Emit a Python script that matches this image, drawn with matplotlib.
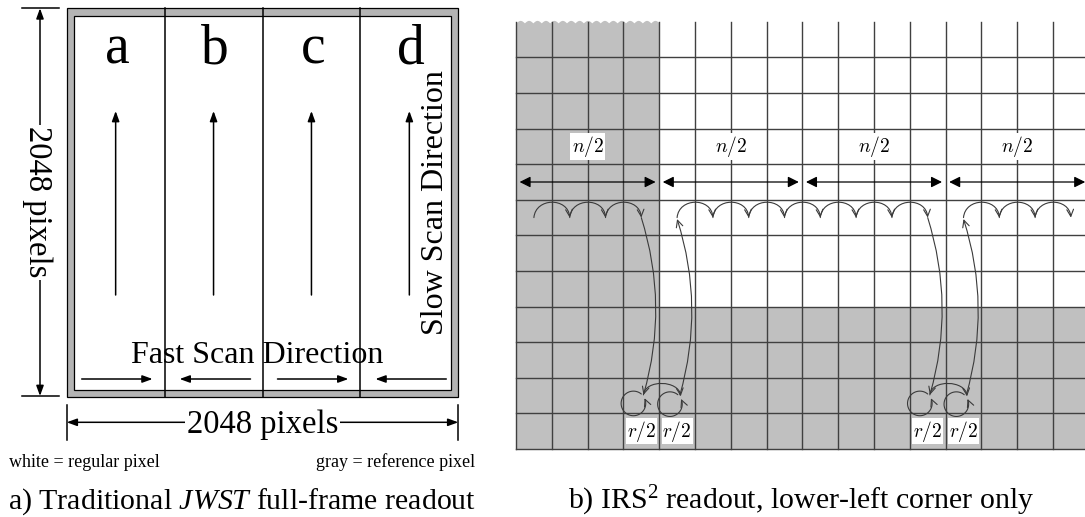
import numpy as np
import matplotlib.pyplot as plt
from matplotlib.patches import Rectangle, FancyArrowPatch
from matplotlib.path import Path

plt.rcParams['font.family'] = ['Liberation Serif', 'DejaVu Serif']
plt.rcParams['mathtext.fontset'] = 'custom'
plt.rcParams['mathtext.rm'] = 'Liberation Serif'
plt.rcParams['mathtext.it'] = 'Liberation Serif:italic'

W, H = 1085, 517

# ── panel a: traditional full-frame readout ──
CHANNELS = ['a', 'b', 'c', 'd']
FAST_DIR = [1, -1, 1, -1]          # +1 = left->right, -1 = right->left
FRAME_PIX = 2048
FRAME = (66.7, 8.3, 458.3, 397.3)  # left, top, right, bottom  (figure px)
BORDER = 7.5                       # drawn width of the reference-pixel border

# ── panel b: IRS2 readout of the lower-left corner ──
GRID_COLS = 16
GRID_ROWS = 12
REF_COLS = 4          # reference columns on the left
REF_ROWS = 4          # reference rows at the bottom
N_HALF = 4            # columns per n/2 span
HOP_CHAINS = [(0, 3), (4, 11), (12, 15)]
REF_PAIRS = [3, 11]   # r/2 pairs sit in columns (c, c+1)
N_LABEL_ROW, SPAN_ROW, HOP_ROW = 8.5, 7.5, 6.5
LOOP_ROW, R_LABEL_ROW = 1.28, 0.5

GRAY_A = '#b4b4b4'
GRAY_B = '#c0c0c0'
LINE = '#404040'
CURVE = '#3a3a3a'

fig = plt.figure(figsize=(W / 100, H / 100), dpi=100)
ax = fig.add_axes([0, 0, 1, 1])
ax.set_xlim(0, W)
ax.set_ylim(H, 0)
ax.axis('off')


def arrow(a, xy, xytext, style='-|>,head_length=0.55,head_width=0.2',
          ms=11, lw=1.1, color='black'):
    a.annotate('', xy=xy, xytext=xytext,
               arrowprops=dict(arrowstyle=style, mutation_scale=ms, lw=lw,
                               color=color, shrinkA=0, shrinkB=0))


# ─────────────────────────────────────────────
#  Panel a
# ─────────────────────────────────────────────
L, T, R, B = FRAME
ax.add_patch(Rectangle((L, T), R - L, B - T, fc=GRAY_A, ec='black', lw=0.9))
ax.add_patch(Rectangle((L + BORDER, T + BORDER), R - L - 2 * BORDER,
                       B - T - 2 * BORDER, fc='white', ec='black', lw=0.9))
chan_w = (R - L) / len(CHANNELS)
for i, (name, d) in enumerate(zip(CHANNELS, FAST_DIR)):
    x0 = L + i * chan_w
    xc = x0 + chan_w / 2
    if i > 0:
        ax.plot([x0, x0], [T, B], color='black', lw=1.1)
    ax.text(xc + 1.5, 63, name, fontsize=40, ha='center', va='baseline')
    arrow(ax, (xc, 111), (xc, 295))
    xa, xb = x0 + 15, x0 + chan_w - 12
    if d < 0:
        xa, xb = xb, xa
    arrow(ax, (xb, 379), (xa, 379))

ax.text((L + R) / 2 - 5, 363, 'Fast Scan Direction', fontsize=23,
        ha='center', va='baseline')
ax.text(443, (T + B) / 2, 'Slow Scan Direction', fontsize=23, rotation=90,
        rotation_mode='anchor', ha='center', va='baseline')

# dimension lines
dim_x, dim_y = 40, 422.3
ax.plot([21.7, 59.3], [T, T], color='black', lw=1.1)
ax.plot([21.7, 59.3], [396, 396], color='black', lw=1.1)
arrow(ax, (dim_x, T), (dim_x, 396), style='<|-|>,head_length=0.55,head_width=0.2')
ax.text(28.5, (T + 396) / 2, f'{FRAME_PIX} pixels', fontsize=23.5,
        rotation=270, rotation_mode='anchor', ha='center', va='baseline',
        bbox=dict(fc='white', ec='none', pad=1.5))
ax.plot([L, L], [405, 440], color='black', lw=1.1)
ax.plot([R, R], [405, 440], color='black', lw=1.1)
arrow(ax, (L, dim_y), (R, dim_y), style='<|-|>,head_length=0.55,head_width=0.2')
ax.text((L + R) / 2, 433.5, f'{FRAME_PIX} pixels', fontsize=23.5,
        ha='center', va='baseline', bbox=dict(fc='white', ec='none', pad=1.5))

ax.text(9.3, 467.3, 'white = regular pixel', fontsize=13, ha='left',
        va='baseline')
ax.text(475, 467.3, 'gray = reference pixel', fontsize=13, ha='right',
        va='baseline')

ax.text(8.3, 509, r'a) Traditional $\mathit{JWST}$ full-frame readout',
        fontsize=21.5, ha='left', va='baseline')
ax.text(801, 509, r'b) IRS$^2$ readout, lower-left corner only',
        fontsize=21.5, ha='center', va='baseline')

# ─────────────────────────────────────────────
#  Panel b  (data units = detector pixels)
# ─────────────────────────────────────────────
CELL_W, CELL_H = 35.8, 35.6
GX0, GY0 = 516, 449
gax = fig.add_axes([GX0 / W, (H - GY0) / H,
                    GRID_COLS * CELL_W / W, GRID_ROWS * CELL_H / H])
gax.set_xlim(0, GRID_COLS)
gax.set_ylim(0, GRID_ROWS)
gax.axis('off')

# reference pixels: left columns (torn top edge) and bottom rows
xs = np.linspace(0, REF_COLS, 600)
wave = GRID_ROWS - 0.03 + 0.07 * np.abs(np.sin(np.pi * xs / (REF_COLS / 17)))
gax.fill_between(xs, 0, wave, color=GRAY_B, lw=0, zorder=0, clip_on=False)
gax.add_patch(Rectangle((0, 0), GRID_COLS, REF_ROWS, fc=GRAY_B, ec='none',
                        zorder=0, clip_on=False))

for c in range(GRID_COLS + 1):
    gax.plot([c, c], [0, GRID_ROWS], color=LINE, lw=1.0, zorder=1,
             clip_on=False)
for r in range(GRID_ROWS):
    gax.plot([0, GRID_COLS], [r, r], color=LINE, lw=1.0, zorder=1,
             clip_on=False)

# n/2 spans
for k in range(GRID_COLS // N_HALF):
    c0 = k * N_HALF
    gax.text(c0 + N_HALF / 2, N_LABEL_ROW, r'$n/2$', fontsize=14,
             math_fontfamily='cm', ha='center', va='center', zorder=3,
             bbox=dict(fc='white', ec='none', pad=1.0))
    arrow(gax, (c0 + N_HALF - 0.1, SPAN_ROW), (c0 + 0.1, SPAN_ROW),
          style='<|-|>,head_length=0.5,head_width=0.25', ms=13, lw=0.9)


def curve(a, verts, ms=11):
    codes = [Path.MOVETO] + [Path.CURVE4] * (len(verts) - 1)
    p = FancyArrowPatch(path=Path(verts, codes),
                        arrowstyle='->,head_length=0.45,head_width=0.22',
                        mutation_scale=ms, lw=0.8, color=CURVE, zorder=4)
    p.set_clip_on(False)
    a.add_patch(p)


def hop(x0, x1, y, h=0.57):
    curve(gax, [(x0, y), (x0 + 0.05, y + h), (x1 - 0.05, y + h), (x1, y)])


for c_start, c_end in HOP_CHAINS:
    for c in range(c_start, c_end):
        hop(c + 0.5, c + 1.5, HOP_ROW)

rx, ry = 12.3 / CELL_W, 12.3 / CELL_H


def loop(cx, cy):
    th = np.radians(np.linspace(50, 385, 60))
    pts = np.column_stack([cx + rx * np.cos(th), cy + ry * np.sin(th)])
    codes = [Path.MOVETO] + [Path.LINETO] * (len(pts) - 1)
    p = FancyArrowPatch(path=Path(pts, codes),
                        arrowstyle='->,head_length=0.45,head_width=0.22',
                        mutation_scale=11, lw=0.8, color=CURVE, zorder=4)
    p.set_clip_on(False)
    gax.add_patch(p)


for c in REF_PAIRS:
    # down to the reference pixel, loop, hop over, loop, back up
    top_a = (c + 0.5, HOP_ROW)
    bot_a = (c + 0.56, LOOP_ROW + 0.24)
    bot_b = (c + 1.6, LOOP_ROW + 0.2)
    top_b = (c + 1.5, HOP_ROW - 0.04)
    p = FancyArrowPatch(top_a, bot_a, connectionstyle='arc3,rad=-0.15',
                        arrowstyle='->,head_length=0.45,head_width=0.22',
                        mutation_scale=11, lw=0.8, color=CURVE,
                        shrinkA=0, shrinkB=0, zorder=4)
    gax.add_patch(p)
    loop(c + 0.28, LOOP_ROW)
    curve(gax, [bot_a, (bot_a[0] + 0.05, bot_a[1] + 0.45),
                (bot_b[0] - 0.05, bot_b[1] + 0.45), bot_b])
    loop(c + 1.30, LOOP_ROW - 0.02)
    p = FancyArrowPatch((c + 1.58, LOOP_ROW + 0.24), top_b,
                        connectionstyle='arc3,rad=0.15',
                        arrowstyle='->,head_length=0.45,head_width=0.22',
                        mutation_scale=11, lw=0.8, color=CURVE,
                        shrinkA=0, shrinkB=0, zorder=4)
    gax.add_patch(p)
    for j in (0, 1):
        gax.text(c + j + 0.5, R_LABEL_ROW, r'$r/2$', fontsize=14,
                 math_fontfamily='cm', ha='center', va='center', zorder=3,
                 bbox=dict(fc='white', ec='none', pad=0.6))

fig.savefig('out.png', dpi=100, facecolor='white')
